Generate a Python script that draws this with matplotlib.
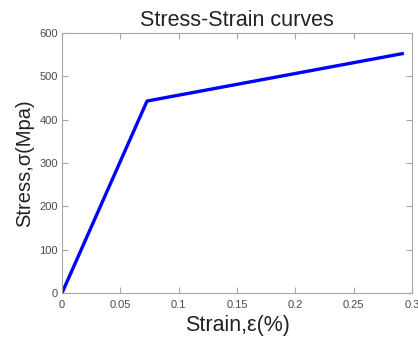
import matplotlib
matplotlib.use("Agg")
import matplotlib.pyplot as plt

strain = [0.0, 0.0729, 0.293]
stress = [0.0, 443.0, 553.0]
xticks = [0, 0.05, 0.1, 0.15, 0.2, 0.25, 0.3]
xticklabels = ["0", "0.05", "0.1", "0.15", "0.2", "0.25", "0.3"]
yticks = [0, 100, 200, 300, 400, 500, 600]

plt.rcParams['font.family'] = ['Liberation Sans', 'DejaVu Sans']

fig = plt.figure(figsize=(4.18, 3.42), dpi=100)
ax = fig.add_axes([62/418, 49/342, 350/418, 260/342])
ax.plot(strain, stress, color='#0000ff', lw=2.4, solid_capstyle='butt')
ax.set_xlim(0, 0.3)
ax.set_ylim(0, 600)
ax.set_xticks(xticks)
ax.set_xticklabels(xticklabels)
ax.set_yticks(yticks)
axis_col = '#a6a6a6'
for s in ax.spines.values():
    s.set_color(axis_col)
    s.set_linewidth(0.8)
ax.tick_params(direction='in', length=4, width=0.8, color=axis_col,
               labelsize=8, labelcolor='#4a4a4a', top=True, right=True)
ax.tick_params(axis='x', pad=5)
ax.tick_params(axis='y', pad=3)
ax.set_title("Stress-Strain curves", fontsize=15.5, color='#222222', pad=5)
ax.set_xlabel("Strain,ε(%)", fontsize=15.5, color='#222222', labelpad=4)
ax.set_ylabel("Stress,σ(Mpa)", fontsize=14.5, color='#222222', labelpad=4)
fig.savefig("out.png", dpi=100)
